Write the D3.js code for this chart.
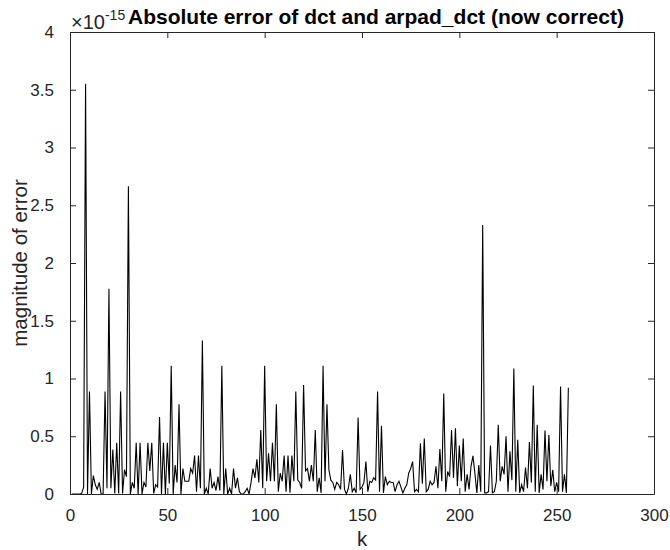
<!DOCTYPE html>
<html>
<head>
<meta charset="utf-8">
<script src="https://cdn.jsdelivr.net/npm/d3@7"></script>
<style>
    body { margin: 0; background: #fff; }
    svg { display: block; font-family: "Liberation Sans", Arial, sans-serif; }
</style>
</head>
<body>
<div id="chart"></div>
<script>
    // absolute error |dct - arpad_dct| for k = 1..256, in units of 1e-15
    const err1to64 = [
        0, 0, 0, 0, 0, 0.005, 0.06, 3.553, 0, 0.888, 0, 0.16, 0.08, 0.04, 0.1, 0,
        0, 0.888, 0.05, 1.776, 0.05, 0.385, 0.005, 0.444, 0.005, 0.888, 0.005, 0.21, 0.15, 2.665, 0, 0.1,
        0.05, 0.444, 0, 0.444, 0, 0.1, 0.06, 0.444, 0.2, 0.444, 0.005, 0.08, 0.06, 0.666, 0, 0.444,
        0, 0.444, 0.09, 1.11, 0, 0.25, 0.1, 0.776, 0, 0.22, 0.11, 0.11, 0.11, 0.22, 0.18, 0.333
    ];
    const err65to128 = [
        0.02, 0.333, 0.05, 1.33, 0, 0.05, 0, 0.22, 0.05, 0.1, 0.03, 0.15, 0.03, 1.11, 0, 0.22,
        0, 0.05, 0, 0.22, 0.05, 0.14, 0.02, 0, 0, 0.02, 0.05, 0, 0.1, 0.22, 0.14, 0.3,
        0.1, 0.555, 0.05, 1.11, 0.11, 0.353, 0.11, 0.444, 0.11, 0.776, 0.02, 0.18, 0.11, 0.333, 0.02, 0.333,
        0.01, 0.333, 0.11, 0.888, 0.12, 0.1, 0.05, 0.944, 0.2, 0.22, 0.11, 0.25, 0.11, 0.555, 0.02, 0.14
    ];
    const err129to192 = [
        0.01, 1.11, 0.11, 0.776, 0.21, 0.12, 0.1, 0.04, 0.1, 0.08, 0.04, 0.38, 0.04, 0, 0.05, 0.17,
        0.02, 0.05, 0.01, 0.663, 0.04, 0.06, 0.1, 0.28, 0.02, 0.11, 0.1, 0.14, 0.12, 0.888, 0.02, 0.59,
        0.01, 0.15, 0.08, 0.11, 0.1, 0.1, 0.02, 0.08, 0.11, 0.06, 0.01, 0.05, 0.08, 0.18, 0.22, 0.28,
        0.02, 0.04, 0.02, 0.44, 0.09, 0.48, 0.02, 0.04, 0.11, 0.08, 0.1, 0.24, 0.05, 0.39, 0.11, 0.87
    ];
    const err193to256 = [
        0.02, 0.195, 0.15, 0.555, 0.14, 0.57, 0.07, 0.42, 0.11, 0.48, 0.02, 0.17, 0.04, 0.24, 0.33, 0.18,
        0.01, 0.25, 0.02, 2.33, 0.01, 0.01, 0.02, 0.42, 0.01, 0.02, 0.11, 0.6, 0.11, 0.24, 0.17, 0.5,
        0.02, 0.37, 0.12, 1.086, 0.02, 0.47, 0.01, 0.08, 0.02, 0.23, 0.05, 0.45, 0.1, 0.94, 0.02, 0.6,
        0.01, 0.17, 0.04, 0.55, 0.11, 0.51, 0.07, 0.21, 0.02, 0.1, 0.02, 0.93, 0.02, 0.17, 0.01, 0.92
    ];

    const xTicks = [0, 50, 100, 150, 200, 250, 300];
    const yTicks = [0, 0.5, 1, 1.5, 2, 2.5, 3, 3.5, 4];

    const errors = [...err1to64, ...err65to128, ...err129to192, ...err193to256];

    const W = 670;
    const H = 550;
    const margin = {top: 32, right: 16, bottom: 56, left: 70};
    const innerW = W - margin.left - margin.right;
    const innerH = H - margin.top - margin.bottom;
    const axisColor = "#262626";
    const tickLen = 6;

    const x = d3.scaleLinear().domain([0, 300]).range([0, innerW]);
    const y = d3.scaleLinear().domain([0, 4]).range([innerH, 0]);

    const svg = d3.select("#chart")
        .append("svg")
        .attr("width", W)
        .attr("height", H);

    const g = svg.append("g")
        .attr("transform", `translate(${margin.left},${margin.top})`);

    // data line
    const line = d3.line()
        .x((d, i) => x(i + 1))
        .y(d => y(d));

    g.append("path")
        .datum(errors)
        .attr("fill", "none")
        .attr("stroke", "#000")
        .attr("stroke-width", 1.1)
        .attr("d", line);

    // axes, MATLAB style: inward ticks on all four sides
    const styleAxis = sel => {
        sel.select(".domain").attr("stroke", axisColor);
        sel.selectAll(".tick line").attr("stroke", axisColor);
        sel.selectAll(".tick text")
            .attr("fill", axisColor)
            .style("font-size", "17px");
    };

    g.append("g")
        .attr("transform", `translate(0,${innerH})`)
        .call(d3.axisBottom(x).tickValues(xTicks).tickSize(-tickLen).tickPadding(15).tickSizeOuter(0))
        .call(styleAxis);

    g.append("g")
        .call(d3.axisTop(x).tickValues(xTicks).tickSize(-tickLen).tickFormat("").tickSizeOuter(0))
        .call(styleAxis);

    g.append("g")
        .call(d3.axisLeft(y).tickValues(yTicks).tickSize(-tickLen).tickPadding(16).tickFormat(d3.format("")).tickSizeOuter(0))
        .call(styleAxis);

    g.append("g")
        .attr("transform", `translate(${innerW},0)`)
        .call(d3.axisRight(y).tickValues(yTicks).tickSize(-tickLen).tickFormat("").tickSizeOuter(0))
        .call(styleAxis);

    // exponent marker
    const expo = svg.append("text")
        .attr("x", margin.left + 1)
        .attr("y", margin.top - 3)
        .attr("fill", axisColor)
        .style("font-size", "20px");
    expo.append("tspan").text("\u00d710");
    expo.append("tspan")
        .attr("dy", -9)
        .style("font-size", "14px")
        .text("-15");

    // title
    svg.append("text")
        .attr("x", 128)
        .attr("y", 24)
        .attr("fill", "#000")
        .style("font-size", "21px")
        .style("font-weight", "bold")
        .text("Absolute error of dct and arpad_dct (now correct)");

    // axis labels
    svg.append("text")
        .attr("x", margin.left + innerW / 2)
        .attr("y", H - 4)
        .attr("text-anchor", "middle")
        .attr("fill", axisColor)
        .style("font-size", "20.5px")
        .text("k");

    svg.append("text")
        .attr("transform", `translate(27,${margin.top + innerH / 2}) rotate(-90)`)
        .attr("text-anchor", "middle")
        .attr("fill", axisColor)
        .style("font-size", "20.5px")
        .text("magnitude of error");
</script>
</body>
</html>
